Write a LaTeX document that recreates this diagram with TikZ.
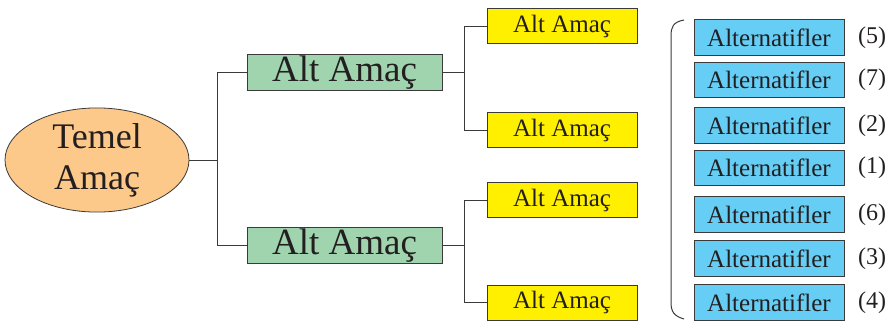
\documentclass[tikz,border=0pt]{standalone}
\usepackage{fontspec}
\setmainfont{Liberation Serif}
\usetikzlibrary{shapes.geometric}
\definecolor{txt}{HTML}{231F20}
\definecolor{edge}{HTML}{3A3A3A}
\definecolor{peach}{HTML}{FDC98A}
\definecolor{mint}{HTML}{A0D4AE}
\definecolor{yel}{HTML}{FFF000}
\definecolor{sky}{HTML}{66CEF5}
\tikzset{
  every node/.style={text=txt},
  rootnode/.style={ellipse,draw=edge,fill=peach,line width=0.8pt,minimum width=184pt,minimum height=98pt,inner sep=0pt,align=center,font=\fontsize{36}{41}\selectfont},
  greenbox/.style={rectangle,draw=edge,fill=mint,line width=1pt,minimum width=195pt,minimum height=35.5pt,inner sep=0pt,font=\fontsize{37}{40}\selectfont},
  yellowbox/.style={rectangle,draw=edge,fill=yel,line width=1pt,minimum width=150pt,minimum height=35pt,inner sep=0pt,font=\fontsize{25}{28}\selectfont},
  bluebox/.style={rectangle,draw=edge,fill=sky,line width=1pt,minimum width=150pt,minimum height=35.5pt,inner sep=0pt,font=\fontsize{25}{28}\selectfont},
  numlabel/.style={inner sep=0pt,font=\fontsize{24}{28}\selectfont},
  conn/.style={draw=edge,line width=1pt}
}
\begin{document}
\begin{tikzpicture}[x=1pt,y=-1pt]
\useasboundingbox (0,0) rectangle (892,322);
\node[rootnode] (root) at (97,160) {Temel\\Amaç};
\node[greenbox] (g1) at (344.5,72.3) {Alt Amaç};
\node[greenbox] (g2) at (344.5,245.5) {Alt Amaç};
\node[yellowbox] (y1) at (562,26) {Alt Amaç};
\node[yellowbox] (y2) at (562,130) {Alt Amaç};
\node[yellowbox] (y3) at (562,200) {Alt Amaç};
\node[yellowbox] (y4) at (562,302.5) {Alt Amaç};
\node[bluebox] (b1) at (769,37.7) {Alternatifler};
\node[bluebox] (b2) at (769,79.8) {Alternatifler};
\node[bluebox] (b3) at (769,125.5) {Alternatifler};
\node[bluebox] (b4) at (769,168) {Alternatifler};
\node[bluebox] (b5) at (769,214.5) {Alternatifler};
\node[bluebox] (b6) at (769,258.7) {Alternatifler};
\node[bluebox] (b7) at (769,302.5) {Alternatifler};
\node[numlabel] (n1) at (872,37.7) {(5)};
\node[numlabel] (n2) at (872,79.8) {(7)};
\node[numlabel] (n3) at (872,125.5) {(2)};
\node[numlabel] (n4) at (872,168) {(1)};
\node[numlabel] (n5) at (872,214.5) {(6)};
\node[numlabel] (n6) at (872,258.7) {(3)};
\node[numlabel] (n7) at (872,302.5) {(4)};
\coordinate (j0) at (217.5,160);
\coordinate (j1) at (464,72.3);
\coordinate (j2) at (464,245.5);
\draw[conn] (root.east) -- (j0);
\draw[conn] (j0) |- (g1.west);
\draw[conn] (j0) |- (g2.west);
\draw[conn] (g1.east) -- (j1);
\draw[conn] (j1) |- (y1.west);
\draw[conn] (j1) |- (y2.west);
\draw[conn] (g2.east) -- (j2);
\draw[conn] (j2) |- (y3.west);
\draw[conn] (j2) |- (y4.west);
\draw[conn] (684,20) .. controls (673,22) and (671,27) .. (671,36) -- (671,302) .. controls (671,312) and (674,316) .. (684,319);
\end{tikzpicture}
\end{document}
